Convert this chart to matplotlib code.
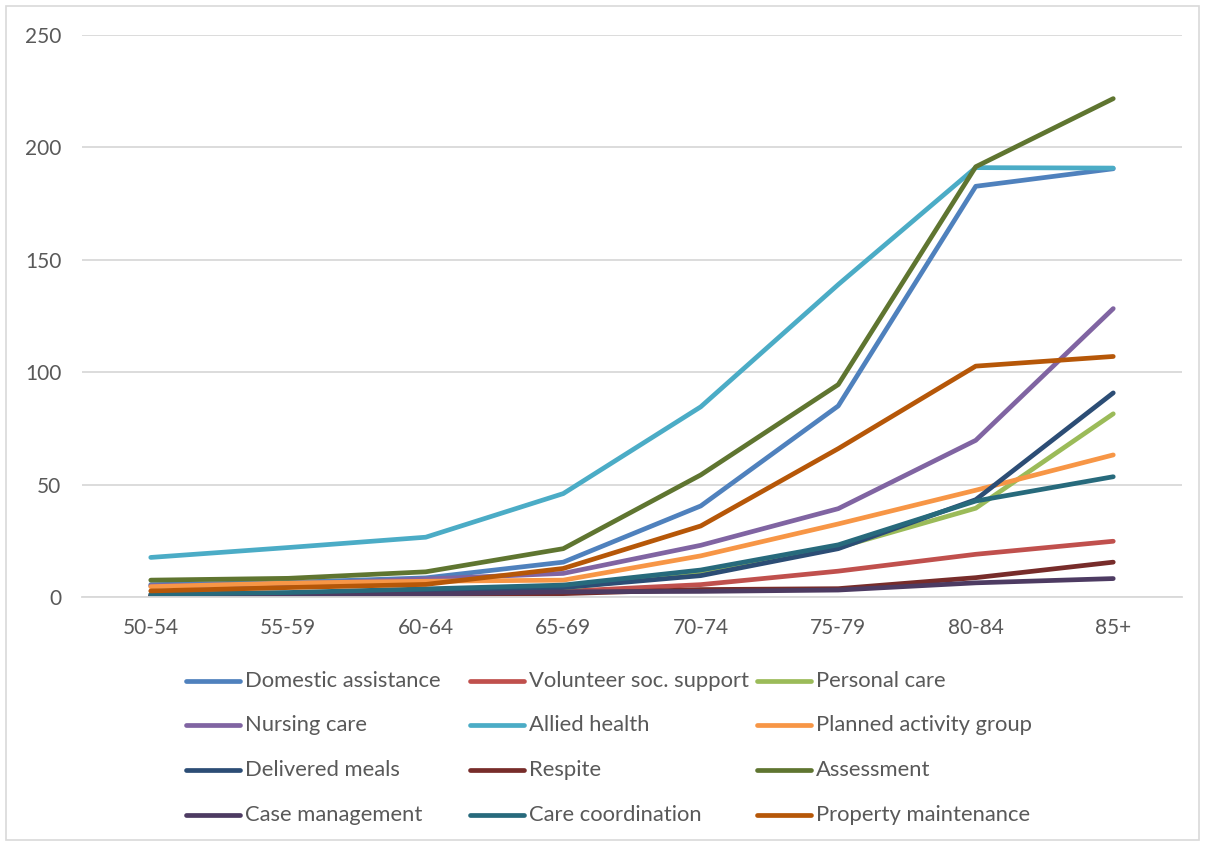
import matplotlib
matplotlib.use("Agg")
import matplotlib.pyplot as plt
from matplotlib.lines import Line2D
from matplotlib.patches import Rectangle

# Age groups on the category axis
age_groups = ["50-54", "55-59", "60-64", "65-69", "70-74", "75-79", "80-84", "85+"]

# Service usage by age group
domestic_assistance = [5.5, 6.5, 8.5, 15.5, 40.5, 85.0, 182.7, 190.5]
volunteer_soc_support = [1.0, 1.5, 2.0, 2.5, 5.5, 11.5, 19.0, 24.8]
personal_care = [0.5, 1.0, 2.0, 4.0, 10.5, 22.0, 39.5, 81.5]
nursing_care = [5.0, 5.7, 8.0, 10.5, 23.0, 39.3, 69.7, 128.3]
allied_health = [17.6, 22.0, 26.6, 46.0, 84.6, 139.0, 191.0, 190.8]
planned_activity_group = [4.6, 6.2, 7.0, 7.5, 18.3, 32.5, 47.5, 63.2]
delivered_meals = [0.5, 1.0, 2.0, 4.2, 9.5, 21.5, 43.3, 90.8]
respite = [0.3, 0.5, 1.0, 1.5, 3.3, 3.7, 8.6, 15.5]
assessment = [7.5, 8.3, 11.2, 21.5, 54.3, 94.5, 191.4, 221.7]
case_management = [0.5, 0.8, 1.3, 2.3, 2.5, 3.1, 6.3, 8.2]
care_coordination = [1.2, 2.0, 3.6, 5.3, 12.0, 23.2, 42.7, 53.5]
property_maintenance = [2.7, 4.2, 5.6, 12.7, 31.6, 66.0, 102.7, 107.0]

series_names = [
    "Domestic assistance", "Volunteer soc. support", "Personal care",
    "Nursing care", "Allied health", "Planned activity group",
    "Delivered meals", "Respite", "Assessment",
    "Case management", "Care coordination", "Property maintenance",
]
series_values = [
    domestic_assistance, volunteer_soc_support, personal_care,
    nursing_care, allied_health, planned_activity_group,
    delivered_meals, respite, assessment,
    case_management, care_coordination, property_maintenance,
]
series_colors = [
    "#4F81BD", "#C0504D", "#9BBB59",
    "#8064A2", "#4BACC6", "#F79646",
    "#2C4D75", "#772C2A", "#5F7530",
    "#4D3B62", "#276A7C", "#B65708",
]

W, H = 1205, 846
fig = plt.figure(figsize=(W / 100, H / 100), dpi=100)
plt.rcParams["font.family"] = ["Lato", "DejaVu Sans"]

# plot area in pixels
left_px, right_px, top_px, bottom_px = 82, 1182, 35, 597
ax = fig.add_axes([left_px / W, 1 - bottom_px / H,
                   (right_px - left_px) / W, (bottom_px - top_px) / H])

x = list(range(len(age_groups)))
for name, vals, col in zip(series_names, series_values, series_colors):
    ax.plot(x, vals, color=col, lw=3.4, solid_capstyle="round",
            solid_joinstyle="round", label=name)

ax.set_xlim(-0.5, len(age_groups) - 0.5)
ax.set_ylim(0, 250)
ax.set_yticks([0, 50, 100, 150, 200, 250])
ax.set_xticks(x)
ax.set_xticklabels(age_groups)

grid_c = "#D9D9D9"
ax.yaxis.grid(True, color=grid_c, lw=1.3)
ax.set_axisbelow(True)
for s in ["top", "right", "left"]:
    ax.spines[s].set_visible(False)
ax.spines["bottom"].set_color(grid_c)
ax.spines["bottom"].set_linewidth(1.3)
ax.tick_params(axis="both", length=0, labelsize=15, labelcolor="#595959")
ax.tick_params(axis="y", pad=15)
ax.tick_params(axis="x", pad=15)

# legend: three fixed-width columns, four rows
col_x = [186, 470, 757]
row_y = [681, 725, 770, 815]
handle_len = 54
for i, (name, col) in enumerate(zip(series_names, series_colors)):
    r, c = divmod(i, 3)
    x0 = col_x[c]
    y0 = row_y[r]
    fig.add_artist(Line2D([x0 / W, (x0 + handle_len) / W], [1 - y0 / H, 1 - y0 / H],
                          color=col, lw=3.4, solid_capstyle="round",
                          transform=fig.transFigure))
    fig.text((x0 + handle_len + 5) / W, 1 - y0 / H, name, fontsize=15.8,
             color="#595959", va="center", ha="left")

# chart border
fig.add_artist(Rectangle((6 / W, 6 / H), (W - 12) / W, (H - 12) / H,
                         transform=fig.transFigure, fill=False,
                         edgecolor=grid_c, lw=1.2))

fig.savefig("out.png", dpi=100)
